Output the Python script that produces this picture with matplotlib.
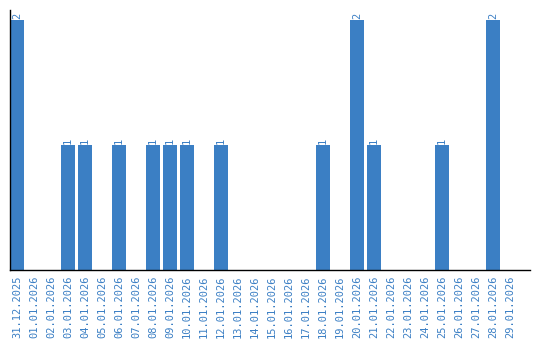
import matplotlib
matplotlib.use("Agg")
import matplotlib.pyplot as plt

dates = ["31.12.2025", "01.01.2026", "02.01.2026", "03.01.2026", "04.01.2026",
         "05.01.2026", "06.01.2026", "07.01.2026", "08.01.2026", "09.01.2026",
         "10.01.2026", "11.01.2026", "12.01.2026", "13.01.2026", "14.01.2026",
         "15.01.2026", "16.01.2026", "17.01.2026", "18.01.2026", "19.01.2026",
         "20.01.2026", "21.01.2026", "22.01.2026", "23.01.2026", "24.01.2026",
         "25.01.2026", "26.01.2026", "27.01.2026", "28.01.2026", "29.01.2026"]
counts = [2, 0, 0, 1, 1, 0, 1, 0, 1, 1, 1, 0, 1, 0, 0,
          0, 0, 0, 1, 0, 2, 1, 0, 0, 0, 1, 0, 0, 2, 0]

blue = "#3b7fc4"

fig = plt.figure(figsize=(5.4, 3.4), dpi=100)
ax = fig.add_axes([10 / 540, 70 / 340, 520 / 540, 260 / 340])

x = list(range(len(dates)))
ax.bar(x, counts, width=0.82, color=blue)
for xi, c in zip(x, counts):
    if c > 0:
        ax.text(xi, c + 0.01, str(c), rotation=90, ha="center", va="bottom",
                color=blue, fontsize=7.5, family="DejaVu Sans Mono")

ax.set_xlim(-0.41, len(dates) + 0.18)
ax.set_ylim(0, 2.08)
ax.set_xticks(x)
ax.set_xticklabels(dates, rotation=90, color=blue, fontsize=7.5,
                   family="DejaVu Sans Mono")
ax.tick_params(axis="x", length=0, pad=4)
ax.set_yticks([])
ax.spines["top"].set_visible(False)
ax.spines["right"].set_visible(False)
ax.spines["left"].set_linewidth(1)
ax.spines["bottom"].set_linewidth(1)

fig.savefig("out.png", dpi=100)
